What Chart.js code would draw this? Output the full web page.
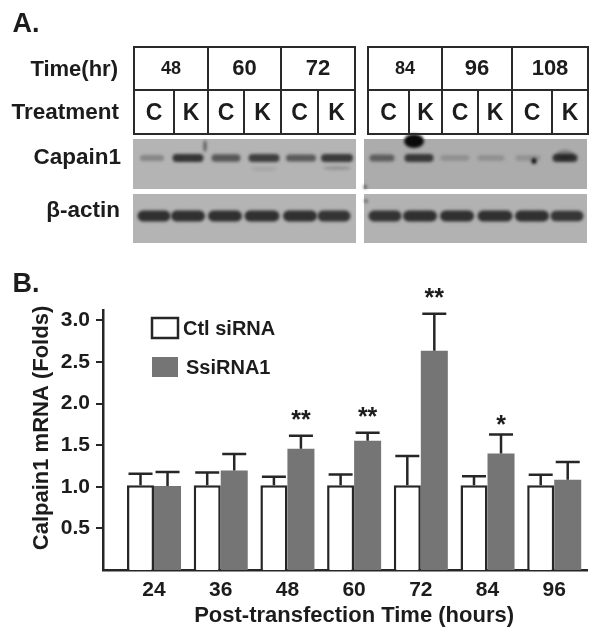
<!DOCTYPE html>
<html>
<head>
<meta charset="utf-8">
<script src="https://cdn.jsdelivr.net/npm/chart.js@4/dist/chart.umd.min.js"></script>
<style>
    html, body { margin: 0; padding: 0; background: #fff; }
    #page { position: relative; width: 602px; height: 640px; overflow: hidden; filter: blur(0.6px); }
    #page canvas { position: absolute; left: 0; top: 0; }
    .txt { position: absolute; font-family: "Liberation Sans", Arial, sans-serif; font-weight: bold; color: #1c1c1c; white-space: nowrap; transform: translate(-50%, -50%); }
    .right { transform: translate(-100%, -50%); }
    .box { position: absolute; border: 2px solid #2a2a2a; box-sizing: border-box; }
</style>
</head>
<body>
<div id="page">
    <canvas id="blots" width="602" height="640"></canvas>
    <canvas id="barChart" width="602" height="640"></canvas>
</div>
<script>
const font = '"Liberation Sans", Arial, sans-serif';
const ink = "#262626";

/* ---------- PANEL B DATA ---------- */
const hours = [24, 36, 48, 60, 72, 84, 96];
const ctlValues = [1.02, 1.02, 1.02, 1.02, 1.02, 1.02, 1.02];
const ctlErrorTops = [1.157, 1.173, 1.12, 1.149, 1.37, 1.128, 1.145];
const siValues = [1.01, 1.197, 1.458, 1.554, 2.635, 1.40, 1.084];
const siErrorTops = [1.177, 1.394, 1.614, 1.65, 3.08, 1.63, 1.297];
const stars = ["", "", "**", "**", "**", "*", ""];
const yTicks = [0.5, 1.0, 1.5, 2.0, 2.5, 3.0];

/* ---------- PANEL A DATA ---------- */
const timesLeft = ["48", "60", "72"];
const timesRight = ["84", "96", "108"];
const laneLabels = ["C", "K", "C", "K", "C", "K"];
const capainLeft = [0.3, 0.85, 0.62, 0.78, 0.6, 0.82];
const capainRight = [0.55, 0.82, 0.2, 0.2, 0.18, 0.85];
const actinLeft = [0.88, 0.88, 0.88, 0.88, 0.88, 0.86];
const actinRight = [0.86, 0.88, 0.88, 0.88, 0.88, 0.84];

const page = document.getElementById("page");

function addText(text, x, y, size, right) {
    const el = document.createElement("div");
    el.className = right ? "txt right" : "txt";
    el.textContent = text;
    el.style.left = x + "px";
    el.style.top = y + "px";
    el.style.fontSize = size + "px";
    page.appendChild(el);
}

function addBox(x0, y0, x1, y1) {
    const el = document.createElement("div");
    el.className = "box";
    el.style.left = x0 + "px";
    el.style.top = y0 + "px";
    el.style.width = (x1 - x0) + "px";
    el.style.height = (y1 - y0) + "px";
    page.appendChild(el);
}

/* ---------- PANEL A TABLE ---------- */
addText("A.", 26, 23, 27);
addText("Time(hr)", 118, 69, 22, true);
addText("Treatment", 119, 112, 22.5, true);
addText("Capain1", 121, 157, 22.5, true);
addText("β-actin", 120, 210, 22.5, true);

function drawTable(timeEdges, laneEdges, times) {
    times.forEach((t, i) => {
        const small = t === "48" || t === "84";
        addBox(timeEdges[i], 46, timeEdges[i + 1] + 2, 91);
        addText(t, (timeEdges[i] + timeEdges[i + 1]) / 2 + 1, 68, small ? 18 : 22);
    });
    laneLabels.forEach((l, i) => {
        addBox(laneEdges[i], 89, laneEdges[i + 1] + 2, 135);
        addText(l, (laneEdges[i] + laneEdges[i + 1]) / 2 + 1, 112, 23);
    });
}

drawTable([133, 207, 280, 354], [133, 173, 207, 243, 280, 317, 354], timesLeft);
drawTable([367, 441, 511, 587], [367, 408, 441, 477, 511, 551, 587], timesRight);

/* ---------- PANEL A BLOTS ---------- */
const blotCtx = document.getElementById("blots").getContext("2d");

function drawBlot(x0, x1, y0, y1, bg, bandY, laneCenters, laneWidths, strengths, bandH) {
    blotCtx.filter = "none";
    blotCtx.fillStyle = bg;
    blotCtx.fillRect(x0, y0, x1 - x0, y1 - y0);
    blotCtx.save();
    blotCtx.beginPath();
    blotCtx.rect(x0, y0, x1 - x0, y1 - y0);
    blotCtx.clip();
    blotCtx.filter = "blur(1.7px)";
    laneCenters.forEach((cx, i) => {
        const s = strengths[i];
        const h = bandH * (0.6 + s / 2);
        blotCtx.fillStyle = `rgba(30,30,30,${s})`;
        blotCtx.beginPath();
        blotCtx.roundRect(cx - laneWidths[i] / 2, bandY - h / 2, laneWidths[i], h, h / 2);
        blotCtx.fill();
    });
    blotCtx.restore();
}

function drawSpot(x, y, rx, ry, alpha) {
    blotCtx.save();
    blotCtx.filter = "blur(1.5px)";
    blotCtx.fillStyle = `rgba(10,10,10,${alpha})`;
    blotCtx.beginPath();
    blotCtx.ellipse(x, y, rx, ry, 0, 0, Math.PI * 2);
    blotCtx.fill();
    blotCtx.restore();
}

const capainLanesLeft = [152, 188, 226, 264, 301, 337];
const capainWidthsLeft = [24, 31, 29, 31, 30, 32];
const capainLanesRight = [382, 419, 455, 491, 528, 565];
const capainWidthsRight = [25, 29, 29, 27, 25, 25];
const actinLanesLeft = [154, 188, 225, 262, 300, 334];
const actinLanesRight = [385, 420, 457, 495, 532, 567];
const actinWidths = [33, 34, 34, 35, 34, 33];

drawBlot(133, 356, 139, 189, "#b4b4b4", 158, capainLanesLeft, capainWidthsLeft, capainLeft, 8);
drawBlot(364, 587, 139, 189, "#acacac", 158, capainLanesRight, capainWidthsRight, capainRight, 8);
drawBlot(133, 356, 194, 243, "#b4b4b4", 216, actinLanesLeft, actinWidths, actinLeft, 10.5);
drawBlot(364, 587, 194, 243, "#b2b2b2", 216, actinLanesRight, actinWidths, actinRight, 10.5);

drawSpot(414, 141, 10, 7, 1);
drawSpot(534, 161, 2.5, 3, 0.95);
drawSpot(205, 146, 1.5, 6, 0.55);
drawSpot(565, 155, 9, 5, 0.3);
drawSpot(264, 169, 13, 2, 0.08);
drawSpot(337, 168, 14, 2, 0.18);
drawSpot(365, 187, 2, 2, 0.5);
drawSpot(366, 201, 2, 2, 0.45);

/* ---------- PANEL B ---------- */
addText("B.", 26, 283, 27);

const annotations = {
    id: "annotations",
    afterDatasetsDraw(chart) {
        const { ctx, scales: { x, y } } = chart;

        // error bars, only the upper arm
        ctx.save();
        ctx.strokeStyle = ink;
        ctx.lineWidth = 2.5;
        [ctlErrorTops, siErrorTops].forEach((tops, d) => {
            const meta = chart.getDatasetMeta(d);
            const vals = d === 0 ? ctlValues : siValues;
            tops.forEach((top, i) => {
                const bx = meta.data[i].x;
                ctx.beginPath();
                ctx.moveTo(bx, y.getPixelForValue(vals[i]));
                ctx.lineTo(bx, y.getPixelForValue(top));
                ctx.moveTo(bx - 12, y.getPixelForValue(top));
                ctx.lineTo(bx + 12, y.getPixelForValue(top));
                ctx.stroke();
            });
        });

        // significance stars above the SsiRNA1 caps
        ctx.fillStyle = "#1c1c1c";
        ctx.textAlign = "center";
        ctx.textBaseline = "alphabetic";
        ctx.font = `bold 25px ${font}`;
        const siMeta = chart.getDatasetMeta(1);
        stars.forEach((s, i) => {
            if (s) ctx.fillText(s, siMeta.data[i].x, y.getPixelForValue(siErrorTops[i]) - (s === "*" ? 1 : 8));
        });

        // legend
        ctx.font = `bold 20px ${font}`;
        ctx.textBaseline = "middle";
        ctx.textAlign = "left";
        const rows = [[318, 20], [357, 20]];
        chart.data.datasets.forEach((ds, d) => {
            const [top, h] = rows[d];
            ctx.fillStyle = ds.backgroundColor;
            ctx.fillRect(152, top, 26, h);
            if (d === 0) {
                ctx.lineWidth = 2.5;
                ctx.strokeRect(152, top, 26, h);
            }
            ctx.fillStyle = "#1c1c1c";
            ctx.fillText(ds.label, d === 0 ? 183 : 186, top + h / 2 + 1);
        });

        // axis titles
        ctx.font = `bold 22px ${font}`;
        ctx.textAlign = "center";
        ctx.fillText("Post-transfection Time (hours)", x.getPixelForValue(60), 616);
        ctx.translate(42, 428);
        ctx.rotate(-Math.PI / 2);
        ctx.fillText("Calpain1 mRNA (Folds)", 0, 0);
        ctx.restore();
    }
};

new Chart(document.getElementById("barChart").getContext("2d"), {
    type: "bar",
    data: {
        datasets: [
            {
                label: "Ctl siRNA",
                data: hours.map((h, i) => ({ x: h, y: ctlValues[i] })),
                backgroundColor: "#ffffff",
                borderColor: ink,
                borderWidth: 2.5
            },
            {
                label: "SsiRNA1",
                data: hours.map((h, i) => ({ x: h, y: siValues[i] })),
                backgroundColor: "#757575",
                borderWidth: 0
            }
        ]
    },
    plugins: [annotations],
    options: {
        responsive: false,
        animation: false,
        categoryPercentage: 0.81,
        barPercentage: 1,
        layout: { padding: { left: 0, right: 15, top: 310, bottom: 0 } },
        plugins: {
            legend: { display: false },
            tooltip: { enabled: false }
        },
        scales: {
            x: {
                type: "linear",
                offset: false,
                min: 14.82,
                max: 101.9,
                afterBuildTicks: (scale) => { scale.ticks = hours.map(v => ({ value: v })); },
                afterFit: (scale) => { scale.height = 70; },
                grid: { display: true, offset: false, drawOnChartArea: false, drawTicks: false },
                border: { color: ink, width: 2.5 },
                ticks: {
                    padding: 8,
                    maxRotation: 0,
                    autoSkip: false,
                    color: "#1c1c1c",
                    font: { family: font, size: 21, weight: "bold" },
                    callback: (v) => String(v)
                }
            },
            y: {
                min: 0,
                max: 3.125,
                afterBuildTicks: (scale) => { scale.ticks = yTicks.map(v => ({ value: v })); },
                afterFit: (scale) => { scale.width = 103; },
                grid: { drawOnChartArea: false, color: ink, lineWidth: 2, tickLength: 7 },
                border: { color: ink, width: 2.5 },
                ticks: {
                    padding: 6,
                    color: "#1c1c1c",
                    font: { family: font, size: 21, weight: "bold" },
                    callback: (v) => v.toFixed(1)
                }
            }
        }
    }
});
</script>
</body>
</html>
